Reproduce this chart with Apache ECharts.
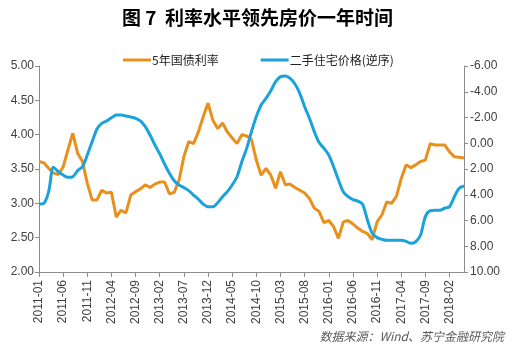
<!DOCTYPE html>
<html><head><meta charset="utf-8">
<script src="https://cdn.jsdelivr.net/npm/echarts@6/dist/echarts.min.js"></script>
<style>html,body{margin:0;padding:0;background:#fff}#c{width:515px;height:347px}</style>
</head><body><div id="c"></div>
<script>
const titleText = '图 7  利率水平领先房价一年时间';
const sourceText = '数据来源：Wind、苏宁金融研究院';
const seriesNames = ['5年国债利率', '二手住宅价格(逆序)'];
const startYear = 2011, startMonth = 1, monthCount = 89;
const bondYield = [3.61,3.59,3.51,3.44,3.42,3.53,3.78,4.02,3.73,3.61,3.29,3.05,3.05,3.19,3.15,3.16,2.80,2.90,2.86,3.12,3.17,3.21,3.27,3.23,3.28,3.31,3.31,3.14,3.16,3.34,3.68,3.90,3.87,4.04,4.26,4.46,4.21,4.09,4.17,4.04,3.95,3.87,4.00,3.98,3.93,3.63,3.41,3.51,3.41,3.22,3.46,3.27,3.28,3.23,3.19,3.15,3.07,2.93,2.88,2.72,2.75,2.66,2.49,2.73,2.75,2.70,2.64,2.59,2.56,2.47,2.73,2.83,3.02,3.00,3.10,3.36,3.56,3.52,3.56,3.61,3.63,3.87,3.85,3.85,3.85,3.75,3.68,3.67,3.66];
const housePrice = [4.72,4.67,3.76,1.87,2.21,2.47,2.65,2.60,2.13,1.82,0.91,-0.12,-1.11,-1.55,-1.73,-1.98,-2.19,-2.19,-2.12,-2.04,-1.94,-1.74,-1.29,-0.64,0.14,0.83,1.61,2.33,2.91,3.24,3.45,3.68,4.02,4.35,4.72,4.93,4.93,4.62,4.15,3.76,3.24,2.60,1.43,0.40,-0.90,-2.07,-2.97,-3.49,-4.08,-4.78,-5.17,-5.22,-5.04,-4.60,-3.88,-2.84,-1.94,-0.90,-0.05,0.39,0.91,1.82,2.85,3.76,4.15,4.37,4.49,4.74,5.96,7.00,7.33,7.46,7.54,7.54,7.54,7.54,7.62,7.77,7.65,7.13,5.70,5.24,5.21,5.21,5.05,4.93,4.15,3.50,3.32];
const leftTicks = {min: 2, max: 5, interval: 0.5};
const rightTicks = {min: -6, max: 10, interval: 2};

const categories = [];
for (let i = 0; i < monthCount; i++) {
  const m = startMonth - 1 + i;
  const y = startYear + Math.floor(m / 12);
  const mm = (m % 12) + 1;
  categories.push(y + '-' + (mm < 10 ? '0' + mm : mm));
}

const chart = echarts.init(document.getElementById('c'), null, {renderer: 'canvas'});
const labelFont = {fontFamily: 'Liberation Sans, DejaVu Sans, sans-serif', fontSize: 12, color: '#404040'};
chart.setOption({
  animation: false,
  backgroundColor: '#fff',
  title: {
    text: titleText, left: 'center', top: 3,
    textStyle: {fontFamily: 'Noto Sans CJK SC', fontWeight: 'bold', fontSize: 19, color: '#000'}
  },
  legend: {
    top: 49, left: 118, itemGap: 42, itemWidth: 28, itemHeight: 3,
    icon: 'rect',
    textStyle: {fontFamily: 'Noto Sans CJK SC', fontSize: 12, color: '#222', padding: [0,0,0,-4]},
    data: seriesNames
  },
  graphic: [{
    type: 'text', right: 11, bottom: 5,
    style: {text: sourceText, font: 'italic 12px "Noto Sans CJK SC"', fill: '#595959'}
  }],
  grid: {left: 39, right: 51, top: 66, bottom: 75, containLabel: false},
  xAxis: {
    type: 'category', data: categories, boundaryGap: false,
    axisLine: {onZero: false, lineStyle: {color: '#8c8c8c', width: 1}},
    axisTick: {interval: 4, length: 5, lineStyle: {color: '#8c8c8c'}},
    axisLabel: Object.assign({interval: 4, rotate: 90, margin: 8}, labelFont),
    splitLine: {show: false}
  },
  yAxis: [{
    type: 'value', min: leftTicks.min, max: leftTicks.max, interval: leftTicks.interval,
    axisLine: {show: true, onZero: false, lineStyle: {color: '#8c8c8c'}},
    axisTick: {show: true, length: 4, lineStyle: {color: '#8c8c8c'}},
    axisLabel: Object.assign({formatter: v => v.toFixed(2), margin: 5}, labelFont),
    splitLine: {show: false}
  }, {
    type: 'value', inverse: true, min: rightTicks.min, max: rightTicks.max, interval: rightTicks.interval,
    position: 'right',
    axisLine: {show: true, onZero: false, lineStyle: {color: '#8c8c8c'}},
    axisTick: {show: true, length: 4, lineStyle: {color: '#8c8c8c'}},
    axisLabel: Object.assign({formatter: v => v.toFixed(2), margin: 6}, labelFont),
    splitLine: {show: false}
  }],
  series: [{
    name: seriesNames[0], type: 'line', yAxisIndex: 0, data: bondYield,
    showSymbol: false, symbol: 'none', color: '#E8901C',
    lineStyle: {width: 3, color: '#E8901C'}
  }, {
    name: seriesNames[1], type: 'line', yAxisIndex: 1, data: housePrice,
    showSymbol: false, symbol: 'none', smooth: 0.3, color: '#1BA1DB',
    lineStyle: {width: 3, color: '#1BA1DB'}
  }]
});
</script></body></html>
